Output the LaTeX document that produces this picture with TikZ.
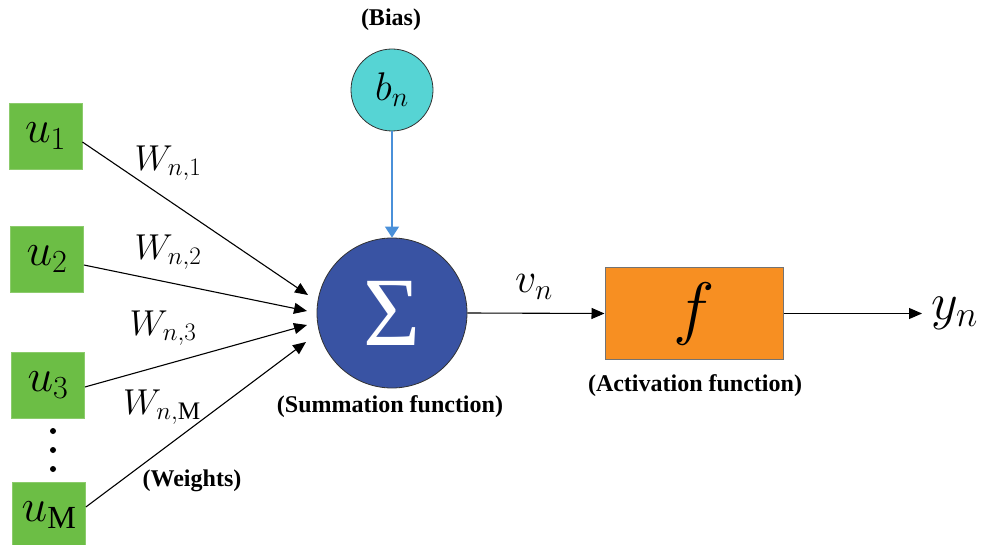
\RequirePackage{fix-cm}
\documentclass[tikz,border=0pt]{standalone}
\usepackage{fontspec}
\setmainfont{Liberation Serif}
\usetikzlibrary{arrows.meta,calc}
\definecolor{ingreen}{HTML}{6CBE45}
\definecolor{inedge}{HTML}{8CCB6C}
\definecolor{biascyan}{HTML}{56D4D4}
\definecolor{sumblue}{HTML}{3953A3}
\definecolor{actorange}{HTML}{F78F22}
\definecolor{biasline}{HTML}{4A90D9}
\newcommand\Fsz[1]{\fontsize{#1}{#1}\selectfont}
\tikzset{
  inbox/.style={draw=inedge, line width=0.8pt, fill=ingreen, minimum width=73pt, minimum height=66pt, inner sep=0pt},
  sumnode/.style={circle, draw=black!80, line width=0.8pt, fill=sumblue, minimum size=150pt, inner sep=0pt, text=white},
  biasnode/.style={circle, draw=black!80, line width=0.8pt, fill=biascyan, minimum size=82pt, inner sep=0pt},
  actbox/.style={draw=black!55, line width=1pt, fill=actorange, minimum width=178pt, minimum height=91pt, inner sep=0pt},
  lbl/.style={font=\Fsz{24}\bfseries, inner sep=0pt},
  wlbl/.style={font=\Fsz{36}, inner sep=0pt},
  conn/.style={draw=black, line width=1.1pt, -{Triangle[length=13pt,width=11pt]}},
  biasconn/.style={draw=biasline, line width=1.2pt, -{Triangle[length=11pt,width=14pt]}}
}
\begin{document}
\begin{tikzpicture}[x=1pt,y=-1pt]
\useasboundingbox (0,0) rectangle (996,545);
% inputs
\node[inbox] (u1) at (45.5,136) {\Fsz{46}$u_1$};
\node[inbox] (u2) at (47,259) {\Fsz{46}$u_2$};
\node[inbox] (u3) at (48,385) {\Fsz{46}$u_3$};
\node[inbox] (uM) at (49,515) {\Fsz{46}$u_{\mathrm{M}}$};
\fill (53,431) circle (3pt) (53,450) circle (3pt) (53,469) circle (3pt);
% summation and bias
\node[sumnode] (s) at (392,313) {\Fsz{98}Σ};
\node[biasnode] (b) at (392,90) {\Fsz{40}$b_n$};
\node[lbl] (biaslbl) at (391,20) {(Bias)};
\node[lbl] (sumlbl) at (390,407) {(Summation function)};
% activation
\node[actbox] (f) at (694,313.5) {\Fsz{70}$f$};
\node[lbl] (actlbl) at (695,386) {(Activation function)};
% arrow end points
\coordinate (t1) at (308,295);
\coordinate (t2) at (307,311);
\coordinate (t3) at (307,325);
\coordinate (t4) at (306,342);
\coordinate (yend) at (922,313.5);
\draw[conn] (u1.east) ++(0,6) -- (t1);
\draw[conn] (u2.east) ++(0,6) -- (t2);
\draw[conn] (u3.east) ++(0,2) -- (t3);
\draw[conn] (uM.east) ++(0,-8) -- (t4);
\draw[biasconn] (b.south) -- (s.north);
\draw[conn] (s.east) -- (f.west);
\draw[conn] (f.east) -- (yend);
% labels
\node[wlbl] (w1) at (168,163) {$W_{n,1}$};
\node[wlbl] (w2) at (168,252) {$W_{n,2}$};
\node[wlbl] (w3) at (163,328) {$W_{n,3}$};
\node[wlbl] (wM) at (162,407) {$W_{n,\mathrm{M}}$};
\node[lbl] (wlbl) at (192,481) {(Weights)};
\node[font=\Fsz{42}, inner sep=0pt] (vn) at (534,287) {$v_n$};
\node[font=\Fsz{52}, inner sep=0pt, anchor=west] (yn) at (931,313) {$y_n$};
\end{tikzpicture}
\end{document}
